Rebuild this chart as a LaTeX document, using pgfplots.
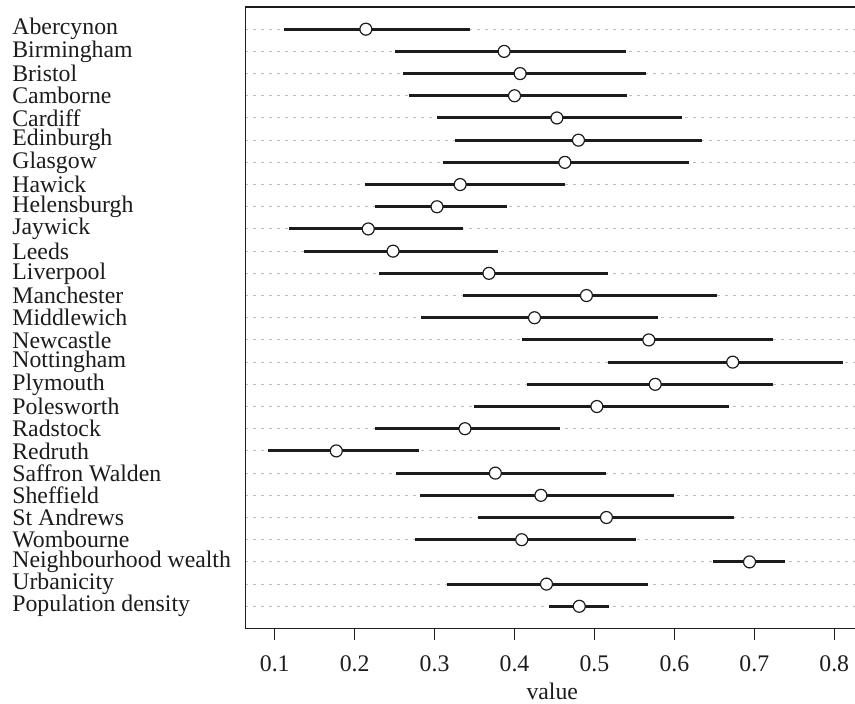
\documentclass[border=0pt]{standalone}
\usepackage{pgfplots}
\pgfplotsset{compat=1.18}
\usepackage{pgfplotstable}
\usepackage{fontspec}
\setmainfont{Liberation Serif}

\definecolor{ink}{HTML}{1C1C1C}
\definecolor{gridgray}{HTML}{BDBDBD}

% row, estimate, lower, upper
\pgfplotstableread{
r  m      lo     hi
1  0.214  0.111  0.344
2  0.387  0.250  0.539
3  0.407  0.260  0.564
4  0.400  0.268  0.541
5  0.453  0.303  0.609
6  0.480  0.325  0.635
7  0.463  0.310  0.618
8  0.332  0.213  0.463
9  0.303  0.226  0.391
10 0.217  0.118  0.335
11 0.248  0.136  0.379
12 0.368  0.231  0.517
13 0.490  0.336  0.653
14 0.425  0.283  0.579
15 0.568  0.409  0.724
16 0.673  0.517  0.811
17 0.576  0.416  0.723
18 0.503  0.349  0.668
19 0.338  0.225  0.457
20 0.177  0.091  0.281
21 0.376  0.252  0.514
22 0.433  0.282  0.600
23 0.515  0.354  0.675
24 0.409  0.275  0.552
25 0.694  0.648  0.739
26 0.440  0.316  0.567
27 0.481  0.443  0.518
}\cities

\begin{document}
\fontsize{11.9}{13}\selectfont
\begin{tikzpicture}
\begin{axis}[
  at={(0,0)}, anchor=south west,
  scale only axis,
  % the right edge of the frame lies just outside the cropped page
  width=307pt, height=311pt,
  xmin=0.0634, xmax=0.8310,
  ymin=0, ymax=28,
  y dir=reverse,
  axis line style={ink, line width=0.7pt},
  xtick={0.1,0.2,0.3,0.4,0.5,0.6,0.7,0.8},
  xticklabels={0.1,0.2,0.3,0.4,0.5,0.6,0.7,0.8},
  xtick pos=bottom,
  tick align=outside,
  major tick length=6pt,
  xtick style={ink, line width=0.7pt},
  xticklabel style={anchor=center, yshift=-11.5pt},
  ytick={1,...,27},
  yticklabels={Abercynon, Birmingham, Bristol, Camborne, Cardiff, Edinburgh,
    Glasgow, Hawick, Helensburgh, Jaywick, Leeds, Liverpool, Manchester,
    Middlewich, Newcastle, Nottingham, Plymouth, Polesworth, Radstock, Redruth,
    Saffron Walden, Sheffield, St Andrews, Wombourne, Neighbourhood wealth,
    Urbanicity, Population density},
  ytick style={draw=none},
  yticklabel style={anchor=west, inner xsep=0pt, xshift=-110.85pt, text=ink},
  ymajorgrids,
  grid style={gridgray, line width=0.5pt, dash pattern=on 1.5pt off 2.5pt},
  xlabel={value},
  xlabel style={at={(axis description cs:0.5,0)}, anchor=center, yshift=-31.5pt, text=ink},
  ticklabel style={text=ink},
  /pgf/number format/assume math mode=true,
  clip=false,
]
\addplot[only marks, mark=*, mark size=3pt,
  mark options={fill=white, draw=ink, line width=0.6pt},
  error bars/.cd, x dir=both, x explicit,
  error mark=none,
  error bar style={ink, line width=1.5pt}]
  table[x=m, y=r,
    x error plus expr=\thisrow{hi}-\thisrow{m},
    x error minus expr=\thisrow{m}-\thisrow{lo}] {\cities};
\end{axis}
\pgfresetboundingbox
\path[use as bounding box] (-122.85pt,-37.5pt) rectangle (305pt,314.5pt);
\end{tikzpicture}
\end{document}
